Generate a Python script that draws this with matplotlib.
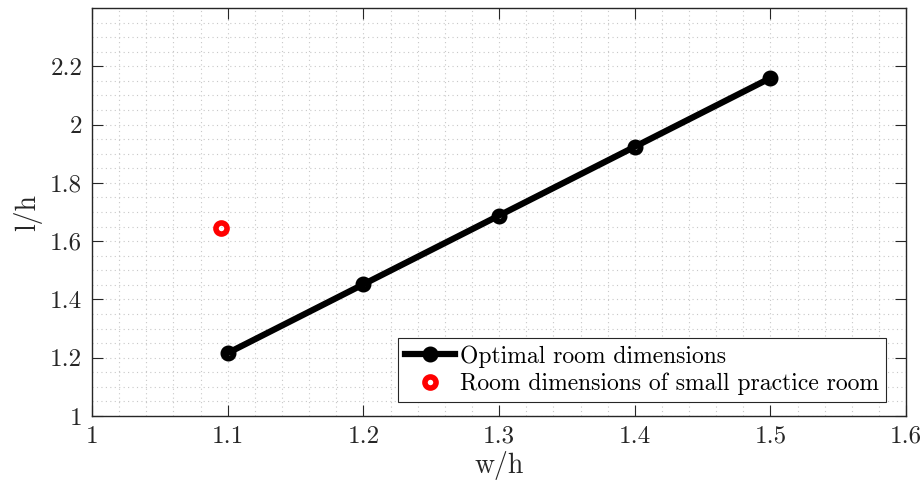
import numpy as np
import matplotlib
matplotlib.use("Agg")
import matplotlib.pyplot as plt
from matplotlib.ticker import MultipleLocator, FuncFormatter

# optimal l/h for each w/h
w_ratio = [1.1, 1.2, 1.3, 1.4, 1.5]
l_ratio = [1.216, 1.452, 1.688, 1.924, 2.160]

# small practice room
room_w = [1.095]
room_l = [1.645]

x_ticks = [1, 1.1, 1.2, 1.3, 1.4, 1.5, 1.6]
y_ticks = [1, 1.2, 1.4, 1.6, 1.8, 2, 2.2]

plt.rcParams["font.family"] = ["cmr10", "DejaVu Serif"]
plt.rcParams["mathtext.fontset"] = "cm"
plt.rcParams["axes.formatter.use_mathtext"] = True

fig = plt.figure(figsize=(9.21, 4.88), dpi=100)
ax = fig.add_axes([0.0999, 0.1475, 0.884, 0.836])

ax.plot(w_ratio, l_ratio, color="black", linewidth=4.5, marker="o",
        markersize=7.5, markerfacecolor="none", markeredgewidth=4,
        label="Optimal room dimensions", zorder=3)
ax.plot(room_w, room_l, linestyle="none", marker="o", markersize=8,
        markerfacecolor="none", markeredgecolor="red", markeredgewidth=4,
        label="Room dimensions of small practice room", zorder=3)

ax.set_xlim(1, 1.6)
ax.set_ylim(1, 2.4)
ax.set_xticks(x_ticks)
ax.set_yticks(y_ticks)
ax.xaxis.set_minor_locator(MultipleLocator(0.02))
ax.yaxis.set_minor_locator(MultipleLocator(0.05))
fmt = FuncFormatter(lambda v, p: f"{v:g}")
ax.xaxis.set_major_formatter(fmt)
ax.yaxis.set_major_formatter(fmt)

ax.grid(which="both", linestyle=(0, (1, 3)), color="#c8c8c8", linewidth=0.8)
ax.set_axisbelow(True)
ax.tick_params(which="major", direction="in", length=8, width=0.8,
               top=True, right=True, labelsize=18, colors="#262626", pad=7)
ax.tick_params(which="minor", length=0)
for s in ax.spines.values():
    s.set_color("#262626")
    s.set_linewidth(1.0)

ax.set_xlabel("w/h", fontsize=20, color="#262626", labelpad=2)
ax.set_ylabel("l/h", fontsize=20, color="#262626", labelpad=6)

leg = ax.legend(loc="lower right", fontsize=17, frameon=True, fancybox=False,
                edgecolor="#262626", framealpha=1,
                bbox_to_anchor=(0.9755, 0.0345), borderaxespad=0,
                handlelength=2.15, handletextpad=0.2, borderpad=0.3,
                labelspacing=0.2)
leg.get_frame().set_linewidth(0.8)

fig.savefig("out.png", dpi=100)
